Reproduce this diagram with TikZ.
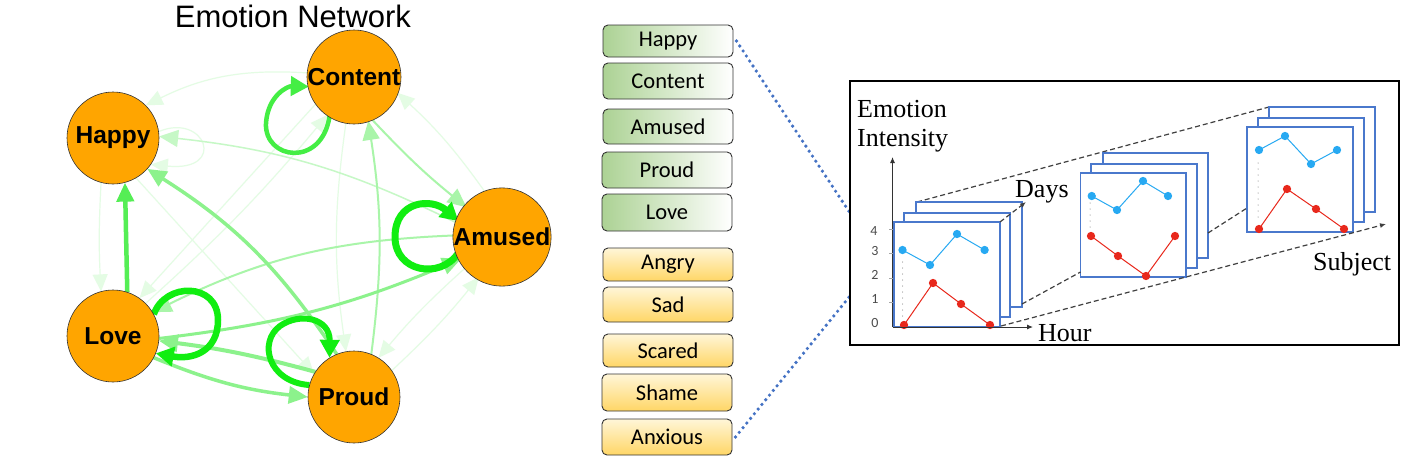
\documentclass[tikz,border=0pt]{standalone}
\usepackage{fontspec}
\setmainfont{Liberation Serif}
\setsansfont{Liberation Sans}
\newfontfamily\boxfont{Carlito}
\usetikzlibrary{arrows.meta}
\definecolor{nodeor}{HTML}{FFA500}
\definecolor{eA}{HTML}{11EE11}
\definecolor{eB}{HTML}{44EE44}
\definecolor{eC}{HTML}{55EE55}
\definecolor{eD}{HTML}{8CF28C}
\definecolor{eE}{HTML}{A9F5A9}
\definecolor{eF}{HTML}{C6F8C6}
\definecolor{eG}{HTML}{E4FCE4}
\definecolor{boxgreen}{RGB}{172,210,148}
\definecolor{boxytop}{RGB}{255,246,216}
\definecolor{boxybot}{RGB}{255,214,102}
\definecolor{dotblue}{HTML}{4472C4}
\definecolor{frameblue}{HTML}{4A78CC}
\definecolor{serblue}{HTML}{27A9F2}
\definecolor{serred}{HTML}{E8281C}
\tikzset{
  emo/.style={circle, draw=black!80, line width=0.6pt, fill=nodeor, minimum size=92pt, inner sep=0pt,
    font=\sffamily\bfseries\fontsize{24.5}{26}\selectfont},
  edg/.style={line width=#1, -{Triangle[length=19pt,width=17pt]}},
  loopedge/.style={line width=#1, -{Triangle[length=18pt,width=19pt]}},
  faint/.style={eG, line width=1.2pt, -{Triangle[length=17pt,width=15pt]}},
  gbox/.style={draw=black!80, line width=0.9pt, rounded corners=5pt, left color=boxgreen, right color=white,
    minimum width=130pt, inner sep=0pt, font=\boxfont\fontsize{22.5}{24}\selectfont},
  ybox/.style={draw=black!80, line width=0.9pt, rounded corners=5pt, top color=boxytop, bottom color=boxybot,
    minimum width=130pt, inner sep=0pt, font=\boxfont\fontsize{22.5}{24}\selectfont},
  bluedots/.style={dotblue, line width=3.6pt, line cap=round, dash pattern=on 0pt off 6pt},
  cframe/.style={draw=frameblue, line width=1.8pt, fill=white},
  dashline/.style={black!75, line width=1.2pt, dash pattern=on 5pt off 3pt},
  smalltip/.style={-{Latex[length=6pt,width=5pt]}},
  bser/.style={serblue, line width=1pt, mark=*, mark size=3.6pt, mark options={solid, fill=serblue, draw=serblue}},
  rser/.style={serred, line width=1pt, mark=*, mark size=3.6pt, mark options={solid, fill=serred, draw=serred}},
  gdots/.style={black!60, line width=1pt, line cap=round, dash pattern=on 0pt off 6pt},
  charttxt/.style={font=\fontsize{26}{28}\selectfont, inner sep=0pt, anchor=base west},
  ticktxt/.style={font=\boxfont\fontsize{14}{15}\selectfont, text=black!70, inner sep=0pt},
}
\begin{document}
\begin{tikzpicture}[x=1pt,y=-1pt]
\useasboundingbox (0,0) rectangle (1402,466);
\fill[white] (0,0) rectangle (1402,466);

% ---------------- network ----------------
\node[font=\sffamily\fontsize{31}{33}\selectfont, inner sep=0pt, anchor=base] (title) at (293,27) {Emotion Network};

\coordinate (Hc) at (113,138);
\coordinate (Cc) at (354,77);
\coordinate (Ac) at (502,237);
\coordinate (Lc) at (113,336);
\coordinate (Pc) at (354,397);
% invisible placeholders for anchors
\node[circle, minimum size=92pt, inner sep=0pt] (H) at (Hc) {};
\node[circle, minimum size=92pt, inner sep=0pt] (C) at (Cc) {};
\node[circle, minimum size=92pt, inner sep=0pt] (A) at (Ac) {};
\node[circle, minimum size=92pt, inner sep=0pt] (L) at (Lc) {};
\node[circle, minimum size=92pt, inner sep=0pt] (P) at (Pc) {};

% faint edges
\draw[faint] (H.-105) to[bend right=3] (L.105);
\draw[faint] (C.175) to[bend right=15] (H.45);
\draw[faint] (C.215) to (L.55);
\draw[faint] (L.45) to[bend right=4] (C.235);
\draw[faint] (H.-60) to (P.150);
\draw[faint] (A.110) to[bend right=6] (C.-20);
\draw[faint] (C.-100) to[bend right=8] (P.100);
\draw[faint] (P.35) to[bend right=4] (A.-120);
\draw[faint] (A.-140) to[bend right=4] (P.58);
\draw[faint] (H.8) .. controls (205,112) and (228,172) .. (H.-35);
% light / medium edges
\draw[edg=1.5pt, eF] (A.163) to[bend right=10] (H.2);
\draw[edg=2pt, eE] (C.-67) to[bend right=4] (A.140);
\draw[edg=2pt, eE] (P.68) to[bend right=8] (C.-72);
\draw[edg=2pt, eE] (A.178) to[bend right=12] (L.31);
\draw[edg=3pt, eD] (L.-3) to[bend right=8] (A.208);
\draw[edg=3.5pt, eD] (L.-28) to[bend right=8] (P.180);
\draw[edg=4pt, eD] (P.147) to[bend right=4] (L.-6);
\draw[edg=3.5pt, eD] (P.112) to[bend right=12] (H.-42);
\draw[edg=4.5pt, eC] (L.72) to (H.-75);
% self loops
\draw[loopedge=4.5pt, eB] (C.238) .. controls (322,168) and (264,160) .. (266,123) .. controls (268,95) and (288,86) .. (C.192);
\draw[loopedge=7pt, eA] (A.200) .. controls (440,280) and (395,272) .. (395,237) .. controls (395,200) and (432,198) .. (A.160);
\draw[loopedge=6.5pt, eA] (L.28) .. controls (165,282) and (218,282) .. (218,320) .. controls (218,352) and (192,360) .. (L.-22);
\draw[loopedge=6pt, eA] (P.165) .. controls (268,382) and (258,342) .. (280,326) .. controls (300,312) and (330,318) .. (P.122);

% nodes on top
\node[emo] (Happy) at (Hc) {Happy};
\node[emo] (Content) at (Cc) {Content};
\node[emo] (Amused) at (Ac) {Amused};
\node[emo] (Love) at (Lc) {Love};
\node[emo] (Proud) at (Pc) {Proud};

% ---------------- list ----------------
\node[gbox, minimum height=32pt] (bHappy) at (668,41) {Happy};
\node[gbox, minimum height=36pt] (bContent) at (668,81) {Content};
\node[gbox, minimum height=35pt] (bAmused) at (668,126.5) {Amused};
\node[gbox, minimum height=36pt] (bProud) at (667,170) {Proud};
\node[gbox, minimum height=37pt] (bLove) at (667,212.5) {Love};
\node[ybox, minimum height=33pt] (bAngry) at (668,264.5) {Angry};
\node[ybox, minimum height=35pt] (bSad) at (668,304.5) {Sad};
\node[ybox, minimum height=33pt] (bScared) at (668,350.5) {Scared};
\node[ybox, minimum height=37pt] (bShame) at (667,392.5) {Shame};
\node[ybox, minimum height=36pt] (bAnxious) at (667,437) {Anxious};

\coordinate (dotTop) at (850,213);
\coordinate (dotBot) at (850,296);
\draw[bluedots] ([xshift=3pt]bHappy.east) -- (dotTop);
\draw[bluedots] ([xshift=3pt]bAnxious.east) -- (dotBot);

% ---------------- data cube panel ----------------
\draw[line width=1.3pt] (850,81) rectangle (1399,345);

\node[charttxt] (emoTxt) at (857,117) {Emotion};
\node[charttxt] (intTxt) at (857,146) {Intensity};

% dashed structure lines (behind charts)
\draw[dashline] (917,202) -- (1269,107);

% chart 1
\draw[cframe] (916,202) rectangle (1022,307);
\draw[cframe] (904,213) rectangle (1010,317);
\draw[cframe] (894,222) rectangle (1000,327);
% chart 2
\draw[cframe] (1103,153) rectangle (1208,258);
\draw[cframe] (1091,164) rectangle (1197,268);
\draw[cframe] (1080.5,173) rectangle (1186,277);
% chart 3
\draw[cframe] (1269,107) rectangle (1375,212);
\draw[cframe] (1258,118) rectangle (1364,222);
\draw[cframe] (1247,127) rectangle (1353,232);

% dotted guides
\draw[gdots] (902.5,262) -- (902.5,322);
\draw[gdots] (1090,203) -- (1090,228);
\draw[gdots] (1258,163) -- (1258,218);

% series
\draw[bser] plot coordinates {(902.5,250) (930,265) (957,234) (984.6,250)};
\draw[rser] plot coordinates {(904,325) (933,283) (961,304) (990,325)};
\draw[bser] plot coordinates {(1091.7,196) (1117,210) (1143,181) (1168,196)};
\draw[rser] plot coordinates {(1091,236) (1118,256) (1146,276) (1175,236)};
\draw[bser] plot coordinates {(1259,150) (1285,136) (1311,164) (1337,150)};
\draw[rser] plot coordinates {(1259,229) (1287,189) (1316,209) (1344,229)};

% dashed connectors
\draw[dashline, smalltip] (1000,222) -- (1026,202);
\draw[dashline] (1022,304) -- (1080.5,272);
\draw[dashline] (1208,233) -- (1247,208);
\draw[dashline, smalltip] (1001,326) -- (1386,224);

% axes
\draw[black!80, line width=1pt, smalltip] (892.5,327) -- (892.5,157);
\draw[black!80, line width=1pt, smalltip] (892.5,327) -- (1033,327);
\foreach \yy in {229,253,278,302} \draw[black!35, line width=0.8pt] (889,\yy) -- (893,\yy);
\node[ticktxt] (t4) at (874,231) {4};
\node[ticktxt] (t3) at (875,251.5) {3};
\node[ticktxt] (t2) at (875,275) {2};
\node[ticktxt] (t1) at (875,299) {1};
\node[ticktxt] (t0) at (875,323) {0};

\node[charttxt] (daysTxt) at (1015,197) {Days};
\node[charttxt] (hourTxt) at (1038,341) {Hour};
\node[charttxt] (subjTxt) at (1313,270) {Subject};
\end{tikzpicture}
\end{document}
